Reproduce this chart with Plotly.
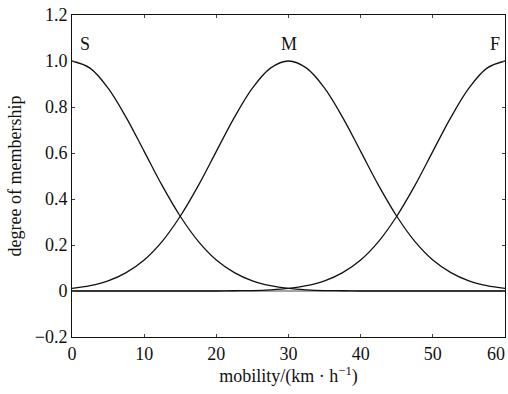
import plotly.graph_objects as go

speed = [0, 2.5, 5, 7.5, 10, 12.5, 15, 17.5, 20, 22.5, 25, 27.5, 30,
         32.5, 35, 37.5, 40, 42.5, 45, 47.5, 50, 52.5, 55, 57.5, 60]
slow = [1.000, 0.969, 0.882, 0.755, 0.607, 0.458, 0.325, 0.216, 0.135, 0.080, 0.044, 0.023, 0.011,
        0.005, 0.002, 0.001, 0.000, 0.000, 0.000, 0.000, 0.000, 0.000, 0.000, 0.000, 0.000]
medium = [0.011, 0.023, 0.044, 0.080, 0.135, 0.216, 0.325, 0.458, 0.607, 0.755, 0.882, 0.969, 1.000,
          0.969, 0.882, 0.755, 0.607, 0.458, 0.325, 0.216, 0.135, 0.080, 0.044, 0.023, 0.011]
fast = [0.000, 0.000, 0.000, 0.000, 0.000, 0.000, 0.000, 0.000, 0.000, 0.001, 0.002, 0.005, 0.011,
        0.023, 0.044, 0.080, 0.135, 0.216, 0.325, 0.458, 0.607, 0.755, 0.882, 0.969, 1.000]
baseline_x = [0, 60]
baseline_y = [0, 0]

curve_names = ["S", "M", "F"]
label_x = [1.8, 30, 58.6]
label_y = [1.075, 1.075, 1.075]

x_ticks = [0, 10, 20, 30, 40, 50, 60]
x_ticktext = ["0", "10", "20", "30", "40", "50", "60\u2007\u2007"]
y_ticks = [-0.2, 0, 0.2, 0.4, 0.6, 0.8, 1.0, 1.2]
y_ticktext = ["\u22120.2", "0", "0.2", "0.4", "0.6", "0.8", "1.0", "1.2"]

font_fam = "Liberation Serif, Times New Roman, serif"

fig = go.Figure()
fig.add_trace(go.Scatter(x=baseline_x, y=baseline_y, mode="lines",
                         line=dict(color="#333", width=0.9), showlegend=False))
for name, vals in zip(curve_names, [slow, medium, fast]):
    fig.add_trace(go.Scatter(x=speed, y=vals, mode="lines", name=name,
                             line=dict(color="#111", width=1.3, shape="spline"),
                             showlegend=False))

for n, lx, ly in zip(curve_names, label_x, label_y):
    fig.add_annotation(x=lx, y=ly, text=n, showarrow=False,
                       font=dict(family=font_fam, size=18, color="#111"))

fig.update_layout(
    width=508, height=394,
    margin=dict(l=72, r=3, t=15, b=57, autoexpand=False),
    paper_bgcolor="white", plot_bgcolor="white",
    font=dict(family=font_fam, size=18, color="#111"),
    xaxis=dict(range=[0, 60], tickvals=x_ticks, ticktext=x_ticktext,
               ticks="inside", ticklen=3,
               mirror="allticks", showline=True, linecolor="#111", linewidth=1,
               showgrid=False, zeroline=False, automargin=False,
               ticklabeloverflow="allow",
               title=dict(text="mobility/(km \u00b7 h<sup>\u22121</sup>)", standoff=6,
                          font=dict(size=18))),
    yaxis=dict(range=[-0.2, 1.2], tickvals=y_ticks, ticktext=y_ticktext,
               ticks="inside", ticklen=3, mirror="allticks", showline=True,
               linecolor="#111", linewidth=1, showgrid=False, zeroline=False,
               automargin=False, ticklabeloverflow="allow",
               title=dict(text="degree of membership", standoff=8,
                          font=dict(size=18))),
)

fig.write_html("out.html", config={"displayModeBar": False},
               post_script="document.body.style.margin='0';document.body.style.overflow='hidden';")
